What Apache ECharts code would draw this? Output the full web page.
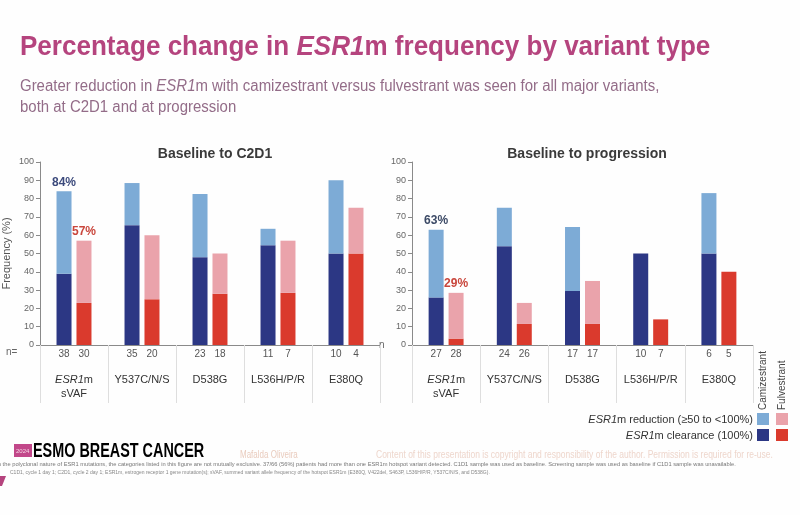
<!DOCTYPE html>
<html>
<head>
<meta charset="utf-8">
<script src="https://cdn.jsdelivr.net/npm/echarts@6/dist/echarts.min.js"></script>
<style>
  html, body { margin: 0; padding: 0; background: #fff; }
  #chart { width: 800px; height: 515px; }
</style>
</head>
<body>
<div id="chart"></div>
<script>
// variant categories (shared by both panels)
const categories = ['ESR1m\nsVAF', 'Y537C/N/S', 'D538G', 'L536H/P/R', 'E380Q']

// Baseline to C2D1 (segment heights, %)
const c2d1CamiClear = [39, 65.5, 48, 54.5, 50]
const c2d1CamiReduce = [45, 23, 34.5, 9, 40]
const c2d1FulvClear = [23, 25, 28, 28.5, 50]
const c2d1FulvReduce = [34, 35, 22, 28.5, 25]
const c2d1NCami = [38, 35, 23, 11, 10]
const c2d1NFulv = [30, 20, 18, 7, 4]

// Baseline to progression (segment heights, %)
const progCamiClear = [26, 54, 29.5, 50, 50]
const progCamiReduce = [37, 21, 35, 0, 33]
const progFulvClear = [3.5, 11.5, 11.5, 14, 40]
const progFulvReduce = [25, 11.5, 23.5, 0, 0]
const progNCami = [27, 24, 17, 10, 6]
const progNFulv = [28, 26, 17, 7, 5]

// totals shown above the first pair of bars
const c2d1Totals = ['84%', '57%']
const progTotals = ['63%', '29%']

const yTicks = [0, 100, 10]

const colCamiLight = '#7dabd6'
const colCamiDark = '#2c3784'
const colFulvLight = '#eaa3ab'
const colFulvDark = '#da3a2d'
const font = 'Liberation Sans, Arial, sans-serif'

const chart = echarts.init(document.getElementById('chart'))

function xAxisFor (idx) {
  return {
    type: 'category',
    gridIndex: idx,
    data: categories,
    axisLine: { lineStyle: { color: '#8a8a8a', width: 1 } },
    axisTick: { show: true, interval: 0, length: 58, lineStyle: { color: '#dedede' } },
    axisLabel: {
      interval: 0,
      margin: 28,
      fontFamily: font,
      fontSize: 11,
      color: '#333',
      lineHeight: 14,
      formatter: function (v) {
        if (v.indexOf('ESR1m') === 0) return '{i|ESR1}m\nsVAF'
        return v
      },
      rich: { i: { fontStyle: 'italic', fontFamily: font, fontSize: 11, color: '#333' } }
    }
  }
}

function yAxisFor (idx, withName) {
  const ax = {
    type: 'value',
    gridIndex: idx,
    min: yTicks[0],
    max: yTicks[1],
    interval: yTicks[2],
    splitLine: { show: false },
    axisLine: { show: true, lineStyle: { color: '#8a8a8a' } },
    axisTick: { show: true, length: 4, lineStyle: { color: '#8a8a8a' } },
    axisLabel: { fontFamily: font, fontSize: 9, color: '#666', margin: 6 }
  }
  if (withName) {
    ax.name = 'Frequency (%)'
    ax.nameLocation = 'middle'
    ax.nameGap = 28
    ax.nameTextStyle = { fontFamily: font, fontSize: 11, color: '#555' }
  }
  return ax
}

function barSeries (idx, stack, values, color, nLabels, topLabel, topColor) {
  return {
    type: 'bar',
    xAxisIndex: idx,
    yAxisIndex: idx,
    stack: stack + idx,
    barWidth: 15,
    barGap: '33%',
    itemStyle: { color: color },
    data: values.map(function (v, i) {
      if (topLabel && i === 0) {
        return {
          value: v,
          label: {
            show: true,
            position: 'top',
            distance: 3,
            formatter: topLabel,
            fontFamily: font,
            fontWeight: 'bold',
            fontSize: 12,
            color: topColor
          }
        }
      }
      return v
    }),
    label: nLabels ? {
      show: true,
      position: 'bottom',
      distance: 4,
      fontFamily: font,
      fontSize: 10,
      color: '#555',
      formatter: function (p) { return nLabels[p.dataIndex] }
    } : { show: false }
  }
}

// condensed-looking text (no narrow font installed, so squeeze horizontally)
function squeezed (x, y, sx, style) {
  return { type: 'text', x: x, y: y, scaleX: sx, originX: 0, originY: 0, style: style }
}

const option = {
  backgroundColor: '#fefefe',
  animation: false,
  title: [
    {
      text: 'Baseline to C2D1',
      left: 210,
      top: 142,
      textAlign: 'center',
      textStyle: { fontFamily: font, fontSize: 14, fontWeight: 'bold', color: '#3a3a3a' }
    },
    {
      text: 'Baseline to progression',
      left: 582,
      top: 142,
      textAlign: 'center',
      textStyle: { fontFamily: font, fontSize: 14, fontWeight: 'bold', color: '#3a3a3a' }
    }
  ],
  grid: [
    { left: 40, right: 420, top: 162, bottom: 170 },
    { left: 412, right: 47, top: 162, bottom: 170 }
  ],
  xAxis: [xAxisFor(0), xAxisFor(1)],
  yAxis: [yAxisFor(0, true), yAxisFor(1, false)],
  series: [
    barSeries(0, 'cami', c2d1CamiClear, colCamiDark, c2d1NCami),
    barSeries(0, 'cami', c2d1CamiReduce, colCamiLight, null, c2d1Totals[0], '#3c4a7c'),
    barSeries(0, 'fulv', c2d1FulvClear, colFulvDark, c2d1NFulv),
    barSeries(0, 'fulv', c2d1FulvReduce, colFulvLight, null, c2d1Totals[1], '#c9463c'),
    barSeries(1, 'cami', progCamiClear, colCamiDark, progNCami),
    barSeries(1, 'cami', progCamiReduce, colCamiLight, null, progTotals[0], '#3c4a66'),
    barSeries(1, 'fulv', progFulvClear, colFulvDark, progNFulv),
    barSeries(1, 'fulv', progFulvReduce, colFulvLight, null, progTotals[1], '#c9463c')
  ],
  graphic: [
    squeezed(20, 47, 0.93, {
      text: 'Percentage change in {i|ESR1}m frequency by variant type',
      fontFamily: font, fontWeight: 'bold', fontSize: 28, fill: '#b5447e', verticalAlign: 'middle',
      rich: { i: { fontFamily: font, fontWeight: 'bold', fontStyle: 'italic', fontSize: 28, fill: '#b5447e' } }
    }),
    squeezed(20, 87, 0.935, {
      text: 'Greater reduction in {i|ESR1}m with camizestrant versus fulvestrant was seen for all major variants,',
      fontFamily: font, fontSize: 16, fill: '#936c88', verticalAlign: 'middle',
      rich: { i: { fontFamily: font, fontStyle: 'italic', fontSize: 16, fill: '#936c88' } }
    }),
    squeezed(20, 108, 0.935, {
      text: 'both at C2D1 and at progression',
      fontFamily: font, fontSize: 16, fill: '#936c88', verticalAlign: 'middle'
    }),
    { type: 'text', left: 6, top: 347, style: { text: 'n=', fontFamily: font, fontSize: 10, fill: '#666' } },
    { type: 'text', left: 379, top: 340, style: { text: 'n', fontFamily: font, fontSize: 10, fill: '#666' } },
    // legend block
    {
      type: 'text', x: 763, y: 410, rotation: Math.PI / 2,
      style: { text: 'Camizestrant', fontFamily: font, fontSize: 10, fill: '#444', align: 'left', verticalAlign: 'middle' }
    },
    {
      type: 'text', x: 782, y: 410, rotation: Math.PI / 2,
      style: { text: 'Fulvestrant', fontFamily: font, fontSize: 10, fill: '#444', align: 'left', verticalAlign: 'middle' }
    },
    {
      type: 'text', x: 753, y: 420,
      style: {
        text: '{i|ESR1}m reduction (≥50 to <100%)', fontFamily: font, fontSize: 11, fill: '#333', align: 'right', verticalAlign: 'middle',
        rich: { i: { fontFamily: font, fontStyle: 'italic', fontSize: 11, fill: '#333' } }
      }
    },
    {
      type: 'text', x: 753, y: 436,
      style: {
        text: '{i|ESR1}m clearance (100%)', fontFamily: font, fontSize: 11, fill: '#333', align: 'right', verticalAlign: 'middle',
        rich: { i: { fontFamily: font, fontStyle: 'italic', fontSize: 11, fill: '#333' } }
      }
    },
    { type: 'rect', shape: { x: 757, y: 413, width: 12, height: 12 }, style: { fill: colCamiLight } },
    { type: 'rect', shape: { x: 776, y: 413, width: 12, height: 12 }, style: { fill: colFulvLight } },
    { type: 'rect', shape: { x: 757, y: 429, width: 12, height: 12 }, style: { fill: colCamiDark } },
    { type: 'rect', shape: { x: 776, y: 429, width: 12, height: 12 }, style: { fill: colFulvDark } },
    // footer
    { type: 'rect', shape: { x: 14, y: 444, width: 18, height: 13 }, style: { fill: '#c2488a' } },
    { type: 'text', x: 16, y: 451, style: { text: '2024', fontFamily: font, fontSize: 6, fill: '#f6d6e6', verticalAlign: 'middle' } },
    squeezed(33, 451, 0.72, {
      text: 'ESMO BREAST CANCER', fontFamily: font, fontWeight: 'bold', fontSize: 20, verticalAlign: 'middle',
      fill: new echarts.graphic.LinearGradient(0, 0, 1, 0, [{ offset: 0, color: '#c44e8c' }, { offset: 1, color: '#d79ab8' }])
    }),
    squeezed(240, 455, 0.8, { text: 'Mafalda Oliveira', fontFamily: font, fontSize: 10, fill: '#e9cbbd', verticalAlign: 'middle' }),
    squeezed(376, 455, 0.85, { text: 'Content of this presentation is copyright and responsibility of the author. Permission is required for re-use.', fontFamily: font, fontSize: 10, fill: '#eed6cc', verticalAlign: 'middle' }),
    squeezed(-14, 465, 1.15, { text: 'Given the polyclonal nature of ESR1 mutations, the categories listed in this figure are not mutually exclusive. 37/66 (56%) patients had more than one ESR1m hotspot variant detected. C1D1 sample was used as baseline. Screening sample was used as baseline if C1D1 sample was unavailable.', fontFamily: font, fontSize: 5, fill: '#777', verticalAlign: 'middle' }),
    squeezed(10, 473, 1.0, { text: 'C1D1, cycle 1 day 1; C2D1, cycle 2 day 1; ESR1m, estrogen receptor 1 gene mutation(s); sVAF, summed variant allele frequency of the hotspot ESR1m (E380Q, V422del, S463P, L536H/P/R, Y537C/N/S, and D538G).', fontFamily: font, fontSize: 5, fill: '#888', verticalAlign: 'middle' }),
    { type: 'polygon', shape: { points: [[0, 476], [6, 476], [2, 486], [0, 486]] }, style: { fill: '#b5447e' } }
  ]
}

chart.setOption(option)
</script>
</body>
</html>
